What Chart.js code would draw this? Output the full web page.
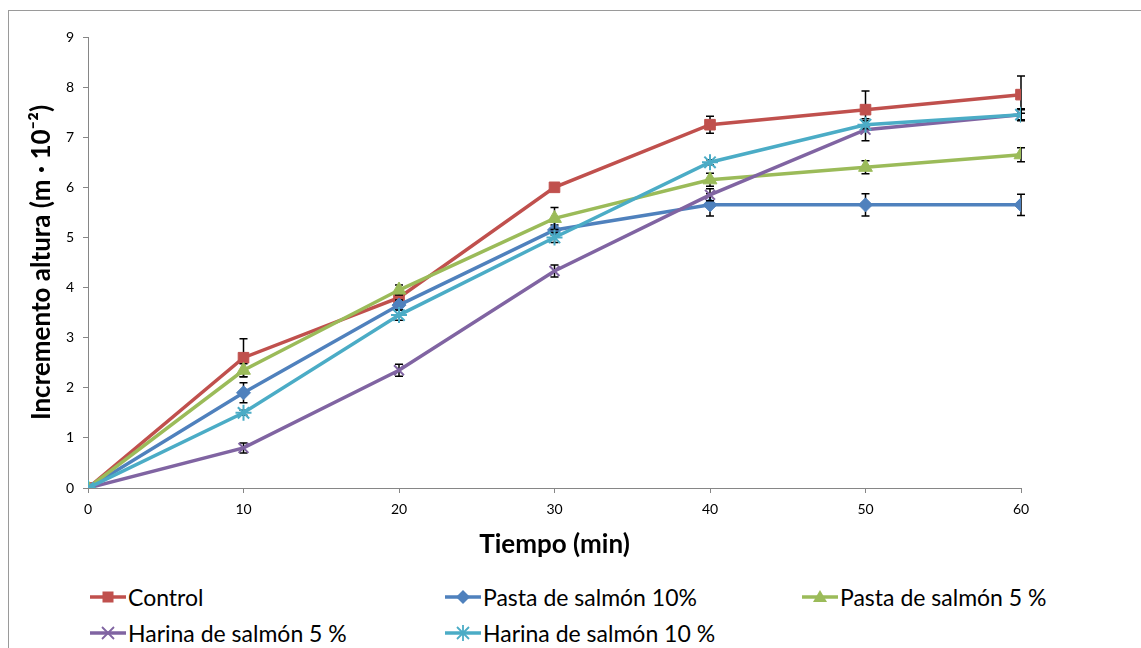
<!DOCTYPE html>
<html>
<head>
<meta charset="utf-8">
<script src="https://cdn.jsdelivr.net/npm/chart.js@4/dist/chart.umd.min.js"></script>
<style>
  body { margin: 0; background: #fff; width: 1141px; height: 648px; overflow: hidden; position: relative; font-family: Lato, "Open Sans", sans-serif; }
  #frame { position: absolute; left: 8px; top: 10px; width: 1200px; height: 700px; border-left: 1px solid #9a9a9a; border-top: 1px solid #9a9a9a; }
  #wrap { position: absolute; left: 0; top: 0; width: 1141px; height: 560px; }
  .leg { position: absolute; font-size: 23px; color: #000; white-space: nowrap; display: flex; align-items: center; }
  .leg svg { margin-right: 2px; }
</style>
</head>
<body>
<div id="frame"></div>
<div id="wrap"><canvas id="chart" width="1141" height="560"></canvas></div>
<div id="legend"></div>
<script>
// time points (min)
const minutes = [0, 10, 20, 30, 40, 50, 60];

// height increase (m · 10^-2)
const control  = [0, 2.6, 3.8, 6.0, 7.25, 7.55, 7.85];
const pasta10  = [0, 1.9, 3.65, 5.15, 5.65, 5.65, 5.65];
const pasta5   = [0, 2.35, 3.95, 5.38, 6.15, 6.4, 6.65];
const harina5  = [0, 0.8, 2.35, 4.33, 5.85, 7.15, 7.45];
const harina10 = [0, 1.5, 3.45, 5.0, 6.5, 7.25, 7.45];

// error bars (+/-)
const controlErr  = [0, 0.38, 0.05, 0.05, 0.17, 0.37, 0.37];
const pasta10Err  = [0, 0.2, 0.1, 0.1, 0.22, 0.22, 0.21];
const pasta5Err   = [0, 0.13, 0.1, 0.22, 0.13, 0.13, 0.14];
const harina5Err  = [0, 0.1, 0.12, 0.12, 0.12, 0.22, 0.1];
const harina10Err = [0, 0.05, 0.1, 0.1, 0.05, 0.08, 0.12];

const seriesNames = ['Control', 'Pasta de salmón 10%', 'Pasta de salmón 5 %', 'Harina de salmón 5 %', 'Harina de salmón 10 %'];
const seriesColors = ['#C0504D', '#4F81BD', '#9BBB59', '#8064A2', '#4BACC6'];
const seriesStyles = ['rect', 'rectRot', 'triangle', 'crossRot', 'star'];
const seriesRadius = [7.5, 7, 8, 7, 8];
const allValues = [control, pasta10, pasta5, harina5, harina10];
const allErrors = [controlErr, pasta10Err, pasta5Err, harina5Err, harina10Err];

const datasets = seriesNames.map((name, i) => ({
  label: name,
  data: minutes.map((m, j) => ({ x: m, y: allValues[i][j] })),
  errors: allErrors[i],
  borderColor: seriesColors[i],
  backgroundColor: seriesColors[i],
  pointBackgroundColor: seriesColors[i],
  pointBorderColor: seriesColors[i],
  pointStyle: seriesStyles[i],
  pointRadius: seriesRadius[i],
  pointBorderWidth: (seriesStyles[i] === 'crossRot' || seriesStyles[i] === 'star') ? 2 : 1,
  borderWidth: 3.5,
  tension: 0,
  order: 5 - i
}));

// draws the error bars of a dataset just before its line
const errorBars = {
  id: 'errorBars',
  beforeDatasetDraw(chart, args) {
    const ds = chart.data.datasets[args.index];
    const xs = chart.scales.x, ys = chart.scales.y;
    const ctx = chart.ctx;
    ctx.save();
    ctx.strokeStyle = '#000';
    ctx.lineWidth = 1.5;
    ds.data.forEach((p, j) => {
      const e = ds.errors[j];
      if (!e) return;
      const px = xs.getPixelForValue(p.x);
      const top = ys.getPixelForValue(p.y + e);
      const bot = ys.getPixelForValue(p.y - e);
      ctx.beginPath();
      ctx.moveTo(px, top); ctx.lineTo(px, bot);
      ctx.moveTo(px - 4, top); ctx.lineTo(px + 4, top);
      ctx.moveTo(px - 4, bot); ctx.lineTo(px + 4, bot);
      ctx.stroke();
    });
    ctx.restore();
  }
};

const axisColor = '#868686';
const tickFont = { family: 'Lato', size: 14 };
const titleFont = { family: 'Lato', size: 26, weight: 'bold' };

new Chart(document.getElementById('chart'), {
  type: 'line',
  data: { datasets: datasets },
  plugins: [errorBars],
  options: {
    responsive: false,
    animation: false,
    devicePixelRatio: 1,
    layout: { padding: { left: 0, top: 37, right: 120, bottom: 0 } },
    plugins: { legend: { display: false }, tooltip: { enabled: false } },
    scales: {
      x: {
        type: 'linear',
        min: 0, max: 60,
        ticks: { stepSize: 10, color: '#000', font: tickFont, padding: 8, maxRotation: 0 },
        grid: { drawOnChartArea: false, drawTicks: true, tickLength: 5, color: axisColor },
        border: { color: axisColor, width: 1 },
        title: { display: true, text: 'Tiempo (min)', color: '#000', font: titleFont, padding: { top: 4, bottom: 0 } },
        afterFit(scale) { scale.height = 72; }
      },
      y: {
        min: 0, max: 9,
        ticks: { stepSize: 1, color: '#000', font: tickFont, padding: 9 },
        grid: { drawOnChartArea: false, drawTicks: true, tickLength: 5, color: axisColor },
        border: { color: axisColor, width: 1 },
        title: { display: true, text: 'Incremento altura (m · 10⁻²)', color: '#000', font: titleFont, padding: { top: 26, bottom: 0 } },
        afterFit(scale) { scale.width = 88; }
      }
    }
  }
});

// legend, laid out like the original (two rows, three columns)
const legendPos = [[90, 598], [445, 598], [802, 598], [90, 634], [445, 634]];

function markerSvg(style, color) {
  let shape = '';
  const cx = 18, cy = 8;
  if (style === 'rect') shape = `<rect x="${cx - 5.5}" y="${cy - 5.5}" width="11" height="11" fill="${color}"/>`;
  if (style === 'rectRot') shape = `<polygon points="${cx},${cy - 7} ${cx + 7},${cy} ${cx},${cy + 7} ${cx - 7},${cy}" fill="${color}"/>`;
  if (style === 'triangle') shape = `<polygon points="${cx},${cy - 7} ${cx + 7},${cy + 5} ${cx - 7},${cy + 5}" fill="${color}"/>`;
  if (style === 'crossRot') shape = `<path d="M${cx - 6} ${cy - 6} L${cx + 6} ${cy + 6} M${cx + 6} ${cy - 6} L${cx - 6} ${cy + 6}" stroke="${color}" stroke-width="1.8"/>`;
  if (style === 'star') shape = `<path d="M${cx - 6} ${cy - 6} L${cx + 6} ${cy + 6} M${cx + 6} ${cy - 6} L${cx - 6} ${cy + 6} M${cx} ${cy - 8} L${cx} ${cy + 8}" stroke="${color}" stroke-width="1.8"/>`;
  return `<svg width="36" height="16" viewBox="0 0 36 16"><line x1="0" y1="${cy}" x2="36" y2="${cy}" stroke="${color}" stroke-width="3.5"/>${shape}</svg>`;
}

const legendEl = document.getElementById('legend');
seriesNames.forEach((name, i) => {
  const div = document.createElement('div');
  div.className = 'leg';
  div.style.left = legendPos[i][0] + 'px';
  div.style.top = (legendPos[i][1] - 15) + 'px';
  div.style.height = '28px';
  div.innerHTML = markerSvg(seriesStyles[i], seriesColors[i]) + '<span>' + name + '</span>';
  legendEl.appendChild(div);
});
</script>
</body>
</html>
